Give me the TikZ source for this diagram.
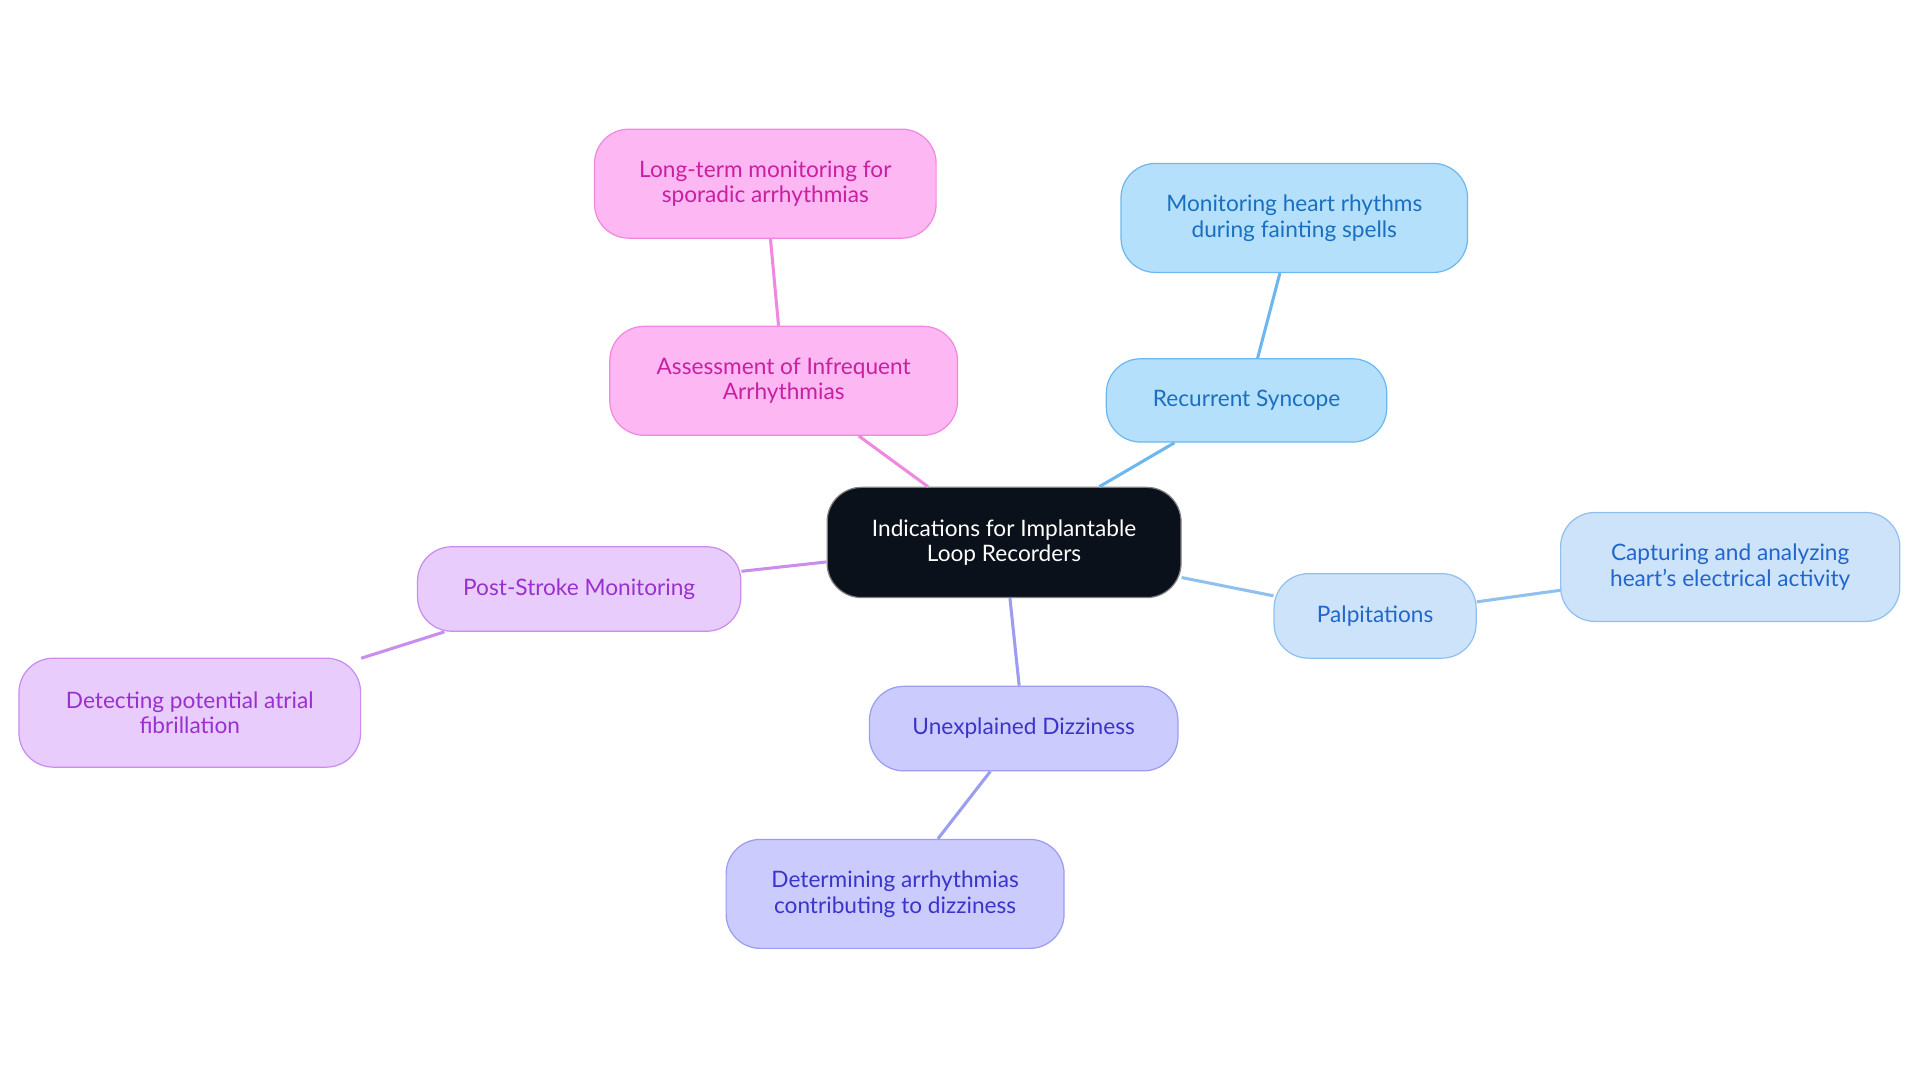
\documentclass[tikz,border=0pt]{standalone}
\usepackage{fontspec}
\setmainfont{Lato}
\begin{document}
\begin{tikzpicture}[x=1pt,y=-1pt,
  box/.style={draw,line width=1pt,rounded corners=28pt,align=center,inner sep=0pt,font=\fontsize{18.5}{21}\selectfont},
  edge/.style={line width=2.5pt}]
\definecolor{cdark}{HTML}{0B111A}
\definecolor{bfill}{HTML}{B5E0FC}\definecolor{bline}{HTML}{6CB8EE}\definecolor{btext}{HTML}{1A6FC0}
\definecolor{pfill}{HTML}{CDE3FA}\definecolor{pline}{HTML}{90C0F0}\definecolor{ptext}{HTML}{2266CC}
\definecolor{dfill}{HTML}{CBCBFD}\definecolor{dline}{HTML}{9C9CF0}\definecolor{dtext}{HTML}{3A35C8}
\definecolor{sfill}{HTML}{E8CCFB}\definecolor{sline}{HTML}{C98DEE}\definecolor{stext}{HTML}{9A30D0}
\definecolor{afill}{HTML}{FDB7F3}\definecolor{aline}{HTML}{F088E0}\definecolor{atext}{HTML}{C8209F}
\useasboundingbox (0,0) rectangle (1568,884.5);
\node[box,fill=cdark,draw=gray,text=white,minimum width=289pt,minimum height=90pt] (c) at (820,443) {Indications for Implantable\\Loop Recorders};
\node[box,fill=bfill,draw=bline,text=btext,minimum width=229pt,minimum height=68pt] (rs) at (1018,327) {Recurrent Syncope};
\node[box,fill=bfill,draw=bline,text=btext,minimum width=283pt,minimum height=89pt] (mh) at (1057,178) {Monitoring heart rhythms\\during fainting spells};
\node[box,fill=pfill,draw=pline,text=ptext,minimum width=165pt,minimum height=69pt] (pa) at (1123,503) {Palpitations};
\node[box,fill=pfill,draw=pline,text=ptext,minimum width=277pt,minimum height=89pt] (ca) at (1413,463) {Capturing and analyzing\\heart's electrical activity};
\node[box,fill=dfill,draw=dline,text=dtext,minimum width=252pt,minimum height=69pt] (ud) at (836,595) {Unexplained Dizziness};
\node[box,fill=dfill,draw=dline,text=dtext,minimum width=276pt,minimum height=89pt] (de) at (731,730) {Determining arrhythmias\\contributing to dizziness};
\node[box,fill=sfill,draw=sline,text=stext,minimum width=264pt,minimum height=69pt] (ps) at (473,481) {Post-Stroke Monitoring};
\node[box,fill=sfill,draw=sline,text=stext,minimum width=279pt,minimum height=89pt] (dp) at (155,582) {Detecting potential atrial\\fibrillation};
\node[box,fill=afill,draw=aline,text=atext,minimum width=284pt,minimum height=89pt] (as) at (640,311) {Assessment of Infrequent\\Arrhythmias};
\node[box,fill=afill,draw=aline,text=atext,minimum width=279pt,minimum height=89pt] (lt) at (625,150) {Long-term monitoring for\\sporadic arrhythmias};
\begin{scope}[on background layer/.style={}]
\end{scope}
\draw[edge,draw=bline] (c) -- (rs);
\draw[edge,draw=bline] (rs) -- (mh);
\draw[edge,draw=pline] (c) -- (pa);
\draw[edge,draw=pline] (pa) -- (ca);
\draw[edge,draw=dline] (c) -- (ud);
\draw[edge,draw=dline] (ud) -- (de);
\draw[edge,draw=sline] (c) -- (ps);
\draw[edge,draw=sline] (ps) -- (dp);
\draw[edge,draw=aline] (c) -- (as);
\draw[edge,draw=aline] (as) -- (lt);
\end{tikzpicture}
\end{document}
